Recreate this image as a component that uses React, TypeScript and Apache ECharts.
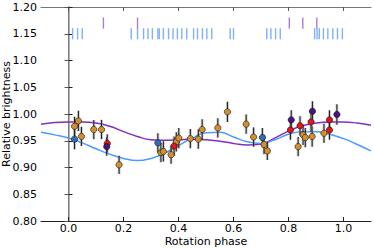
import React, { useEffect, useRef } from "react";
import * as echarts from "echarts";

// Phase grid for the model curves
const curvePhase = [-0.1, -0.05, 0.0, 0.05, 0.1, 0.15, 0.2, 0.25, 0.3, 0.35, 0.4, 0.45, 0.5, 0.55, 0.6, 0.65, 0.7, 0.75, 0.8, 0.85, 0.9, 0.95, 1.0, 1.05, 1.1];
const purpleCurve = [0.981, 0.984, 0.985, 0.985, 0.983, 0.977, 0.967, 0.958, 0.952, 0.951, 0.952, 0.953, 0.952, 0.949, 0.945, 0.942, 0.944, 0.955, 0.968, 0.978, 0.983, 0.985, 0.985, 0.983, 0.979];
const blueCurve = [0.966, 0.961, 0.955, 0.946, 0.935, 0.925, 0.917, 0.913, 0.917, 0.927, 0.941, 0.955, 0.965, 0.966, 0.957, 0.948, 0.945, 0.952, 0.962, 0.967, 0.967, 0.962, 0.954, 0.943, 0.931];

// Observations: [phase, brightness, error]
const orangePts = [
  [0.022, 0.977, 0.018], [0.036, 0.987, 0.019], [0.047, 0.958, 0.018], [0.092, 0.971, 0.018],
  [0.120, 0.971, 0.018], [0.184, 0.905, 0.017], [0.373, 0.924, 0.017], [0.336, 0.928, 0.018],
  [0.345, 0.930, 0.019], [0.392, 0.948, 0.018], [0.401, 0.955, 0.019], [0.443, 0.954, 0.018],
  [0.472, 0.953, 0.018], [0.486, 0.971, 0.019], [0.543, 0.974, 0.018], [0.578, 1.004, 0.019],
  [0.646, 0.981, 0.018], [0.673, 0.957, 0.018], [0.711, 0.943, 0.018], [0.723, 0.931, 0.017],
  [0.835, 0.939, 0.018], [0.853, 0.961, 0.019], [0.861, 0.956, 0.018], [0.886, 0.958, 0.019],
  [0.929, 0.964, 0.018],
];
const bluePts = [[0.022, 0.953, 0.019], [0.325, 0.946, 0.018], [0.705, 0.956, 0.018]];
const redPts = [
  [0.141, 0.945, 0.017], [0.384, 0.940, 0.018], [0.807, 0.970, 0.018], [0.842, 0.978, 0.018],
  [0.882, 0.985, 0.018], [0.949, 0.989, 0.018], [0.949, 0.970, 0.018],
];
const purplePts = [[0.139, 0.939, 0.017], [0.810, 0.989, 0.018], [0.887, 1.005, 0.019], [0.976, 0.999, 0.019]];

// Observation epochs (tick marks at top)
const blueTicks = [
  0.015, 0.033, 0.050,
  0.228, 0.251, 0.273, 0.289, 0.305, 0.325, 0.330, 0.345, 0.364, 0.380, 0.396, 0.412, 0.430, 0.455, 0.469, 0.487, 0.503, 0.521,
  0.588, 0.600,
  0.721, 0.736, 0.753, 0.770,
  0.895, 0.904, 0.912, 0.927, 0.943, 0.961, 0.978, 0.996,
];
const purpleTicks = [0.127, 0.251, 0.803, 0.852, 0.903];
const blueTickLevel = 1.15;
const purpleTickLevel = 1.17;

const xTicks = [0.0, 0.2, 0.4, 0.6, 0.8, 1.0];

const FONT = "DejaVu Sans";

function errRender(params: any, api: any) {
  const x = api.value(0);
  const y = api.value(1);
  const e = api.value(2);
  const a = api.coord([x, y + e]);
  const b = api.coord([x, y - e]);
  return {
    type: "group",
    children: [
      { type: "line", shape: { x1: a[0], y1: a[1], x2: b[0], y2: b[1] }, style: { stroke: "rgba(150,150,150,0.45)", lineWidth: 3 } },
      { type: "line", shape: { x1: a[0], y1: a[1], x2: b[0], y2: b[1] }, style: { stroke: "#222", lineWidth: 1.1 } },
    ],
  };
}

function tickRender(color: string) {
  return (params: any, api: any) => {
    const x = api.value(0);
    const y = api.value(1);
    const a = api.coord([x, y + 0.0105]);
    const b = api.coord([x, y - 0.0105]);
    return {
      type: "line",
      shape: { x1: a[0], y1: a[1], x2: b[0], y2: b[1] },
      style: { stroke: color, lineWidth: 1.4 },
    };
  };
}

function pointSeries(data: number[][], color: string) {
  return {
    type: "scatter",
    data: data.map((d) => [d[0], d[1]]),
    symbol: "circle",
    symbolSize: 6.3,
    itemStyle: { color, borderColor: "#111", borderWidth: 0.6, opacity: 1 },
    z: 5,
  };
}

function errSeries(data: number[][]) {
  return {
    type: "custom",
    data,
    renderItem: errRender,
    encode: { x: 0, y: 1 },
    z: 4,
  };
}

export default function App() {
  const ref = useRef<HTMLDivElement>(null);
  useEffect(() => {
    document.body.style.margin = "0";
    if (!ref.current) return;
    const chart = echarts.init(ref.current, null, { renderer: "svg" });
    const allErr = [...orangePts, ...bluePts, ...redPts, ...purplePts];
    chart.setOption({
      animation: false,
      textStyle: { fontFamily: FONT },
      grid: { left: 41, right: 3, top: 7, bottom: 28, outerBoundsMode: "none", containLabel: false },
      xAxis: [
        {
          type: "value",
          position: "bottom",
          min: -0.1,
          max: 1.1,
          name: "Rotation phase",
          nameLocation: "middle",
          nameGap: 15.5,
          nameMoveOverlap: false,
          nameTextStyle: { fontFamily: FONT, fontSize: 11, lineHeight: 10, color: "#000" },
          axisLine: { lineStyle: { color: "#222", width: 1 } },
          axisTick: { inside: true, length: 4, customValues: xTicks, lineStyle: { color: "#222" } },
          axisLabel: {
            customValues: xTicks,
            margin: 2,
            fontFamily: FONT,
            fontSize: 11,
            lineHeight: 10,
            color: "#000",
            formatter: (v: number) => v.toFixed(1),
          },
          splitLine: { show: false },
        },
        {
          type: "value",
          position: "top",
          min: -0.1,
          max: 1.1,
          axisLine: { lineStyle: { color: "#777", width: 1 } },
          axisTick: { inside: true, length: 4, customValues: xTicks, lineStyle: { color: "#555" } },
          axisLabel: { show: false },
          splitLine: { show: false },
        },
      ],
      yAxis: [
        {
          type: "value",
          position: "left",
          min: 0.8,
          max: 1.2,
          interval: 0.05,
          name: "Relative brightness",
          nameLocation: "middle",
          nameGap: 29,
          nameMoveOverlap: false,
          nameTextStyle: { fontFamily: FONT, fontSize: 11, color: "#000" },
          axisLine: { show: true, lineStyle: { color: "#222", width: 1 } },
          axisTick: { show: true, inside: true, length: 4, lineStyle: { color: "#222" } },
          axisLabel: {
            margin: 4,
            fontFamily: FONT,
            fontSize: 11,
            color: "#000",
            formatter: (v: number) => v.toFixed(2),
          },
          splitLine: { show: false },
        },
        {
          type: "value",
          position: "right",
          min: 0.8,
          max: 1.2,
          interval: 0.05,
          axisLine: { show: true, lineStyle: { color: "#999", width: 1.5 } },
          axisTick: { show: true, inside: true, length: 4, lineStyle: { color: "#555" } },
          axisLabel: { show: false },
          splitLine: { show: false },
        },
      ],
      series: [
        {
          type: "line",
          data: curvePhase.map((p, i) => [p, purpleCurve[i]]),
          smooth: 0.5,
          showSymbol: false,
          lineStyle: { color: "#7f2fc4", width: 1.5 },
          z: 2,
        },
        {
          type: "line",
          data: curvePhase.map((p, i) => [p, blueCurve[i]]),
          smooth: 0.5,
          showSymbol: false,
          lineStyle: { color: "#4c9bff", width: 1.5 },
          z: 3,
        },
        {
          type: "custom",
          data: blueTicks.map((p) => [p, blueTickLevel]),
          renderItem: tickRender("#7fb0fb"),
          encode: { x: 0, y: 1 },
          z: 3,
        },
        {
          type: "custom",
          data: purpleTicks.map((p) => [p, purpleTickLevel]),
          renderItem: tickRender("#b27ad8"),
          encode: { x: 0, y: 1 },
          z: 3,
        },
        errSeries(allErr),
        pointSeries(orangePts, "#d38f2c"),
        pointSeries(bluePts, "#2f6db5"),
        pointSeries(redPts, "#e3141a"),
        pointSeries(purplePts, "#4a1282"),
      ],
    });
    return () => chart.dispose();
  }, []);
  return <div ref={ref} style={{ width: 374, height: 249 }} />;
}
